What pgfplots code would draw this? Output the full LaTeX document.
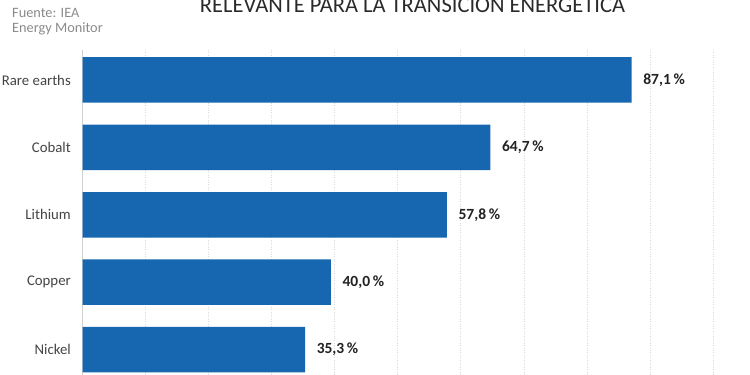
\documentclass[border=0pt]{standalone}
\usepackage{pgfplots}
\pgfplotsset{compat=1.18}
\usepackage{fontspec}
\setmainfont{Carlito}
\definecolor{barblue}{HTML}{1667AF}
\definecolor{gridgray}{HTML}{DADADA}
\definecolor{axisgray}{HTML}{D0D0D0}
\definecolor{srcgray}{HTML}{8A8A8A}
\definecolor{titlegray}{HTML}{2A2A2A}
\definecolor{labgray}{HTML}{444444}
\definecolor{valdark}{HTML}{222222}
\begin{document}
\begin{tikzpicture}
\useasboundingbox (0pt,0pt) rectangle (750pt,-375pt);
\clip (0pt,0pt) rectangle (750pt,-375pt);
\node[anchor=base west, inner sep=0pt, font=\fontsize{14.3}{16}\selectfont, text=srcgray] at (12pt,-17.3pt) {Fuente: IEA};
\node[anchor=base west, inner sep=0pt, font=\fontsize{14.3}{16}\selectfont, text=srcgray] at (12pt,-32.3pt) {Energy Monitor};
\node[anchor=base, inner sep=0pt, font=\fontsize{22.5}{25}\selectfont, text=titlegray] at (412.5pt,-12pt) {RELEVANTE PARA LA TRANSICIÓN ENERGÉTICA};
\begin{axis}[
  at={(82.5pt,-50pt)}, anchor=north west,
  scale only axis, width=630.5pt, height=325pt,
  xmin=0, xmax=100,
  y dir=reverse, ymin=-0.445, ymax=4.378,
  enlargelimits=false,
  axis x line*=bottom, axis y line*=left,
  x axis line style={draw=none},
  y axis line style={draw=axisgray, line width=0.8pt, -},
  ytick={0,1,2,3,4},
  yticklabels={Rare earths,Cobalt,Lithium,Copper,Nickel},
  xtick={10,20,30,40,50,60,70,80,90,100},
  xticklabels={},
  xmajorgrids,
  major grid style={dotted, draw=gridgray, line width=0.7pt},
  major tick length=0pt,
  yticklabel style={font=\fontsize{14.8}{16}\selectfont, text=labgray, inner sep=0pt, xshift=-11.5pt},
]
\addplot[xbar, fill=barblue, draw=none, bar width=45.5pt,
  point meta=explicit symbolic,
  nodes near coords,
  nodes near coords style={anchor=west, inner sep=0pt, xshift=11.5pt, font=\bfseries\fontsize{15.5}{17}\selectfont, text=valdark}]
coordinates {
  (87.1,0) [87,1\,\%]
  (64.7,1) [64,7\,\%]
  (57.8,2) [57,8\,\%]
  (39.4,3) [40,0\,\%]
  (35.3,4) [35,3\,\%]
};
\end{axis}
\end{tikzpicture}
\end{document}
